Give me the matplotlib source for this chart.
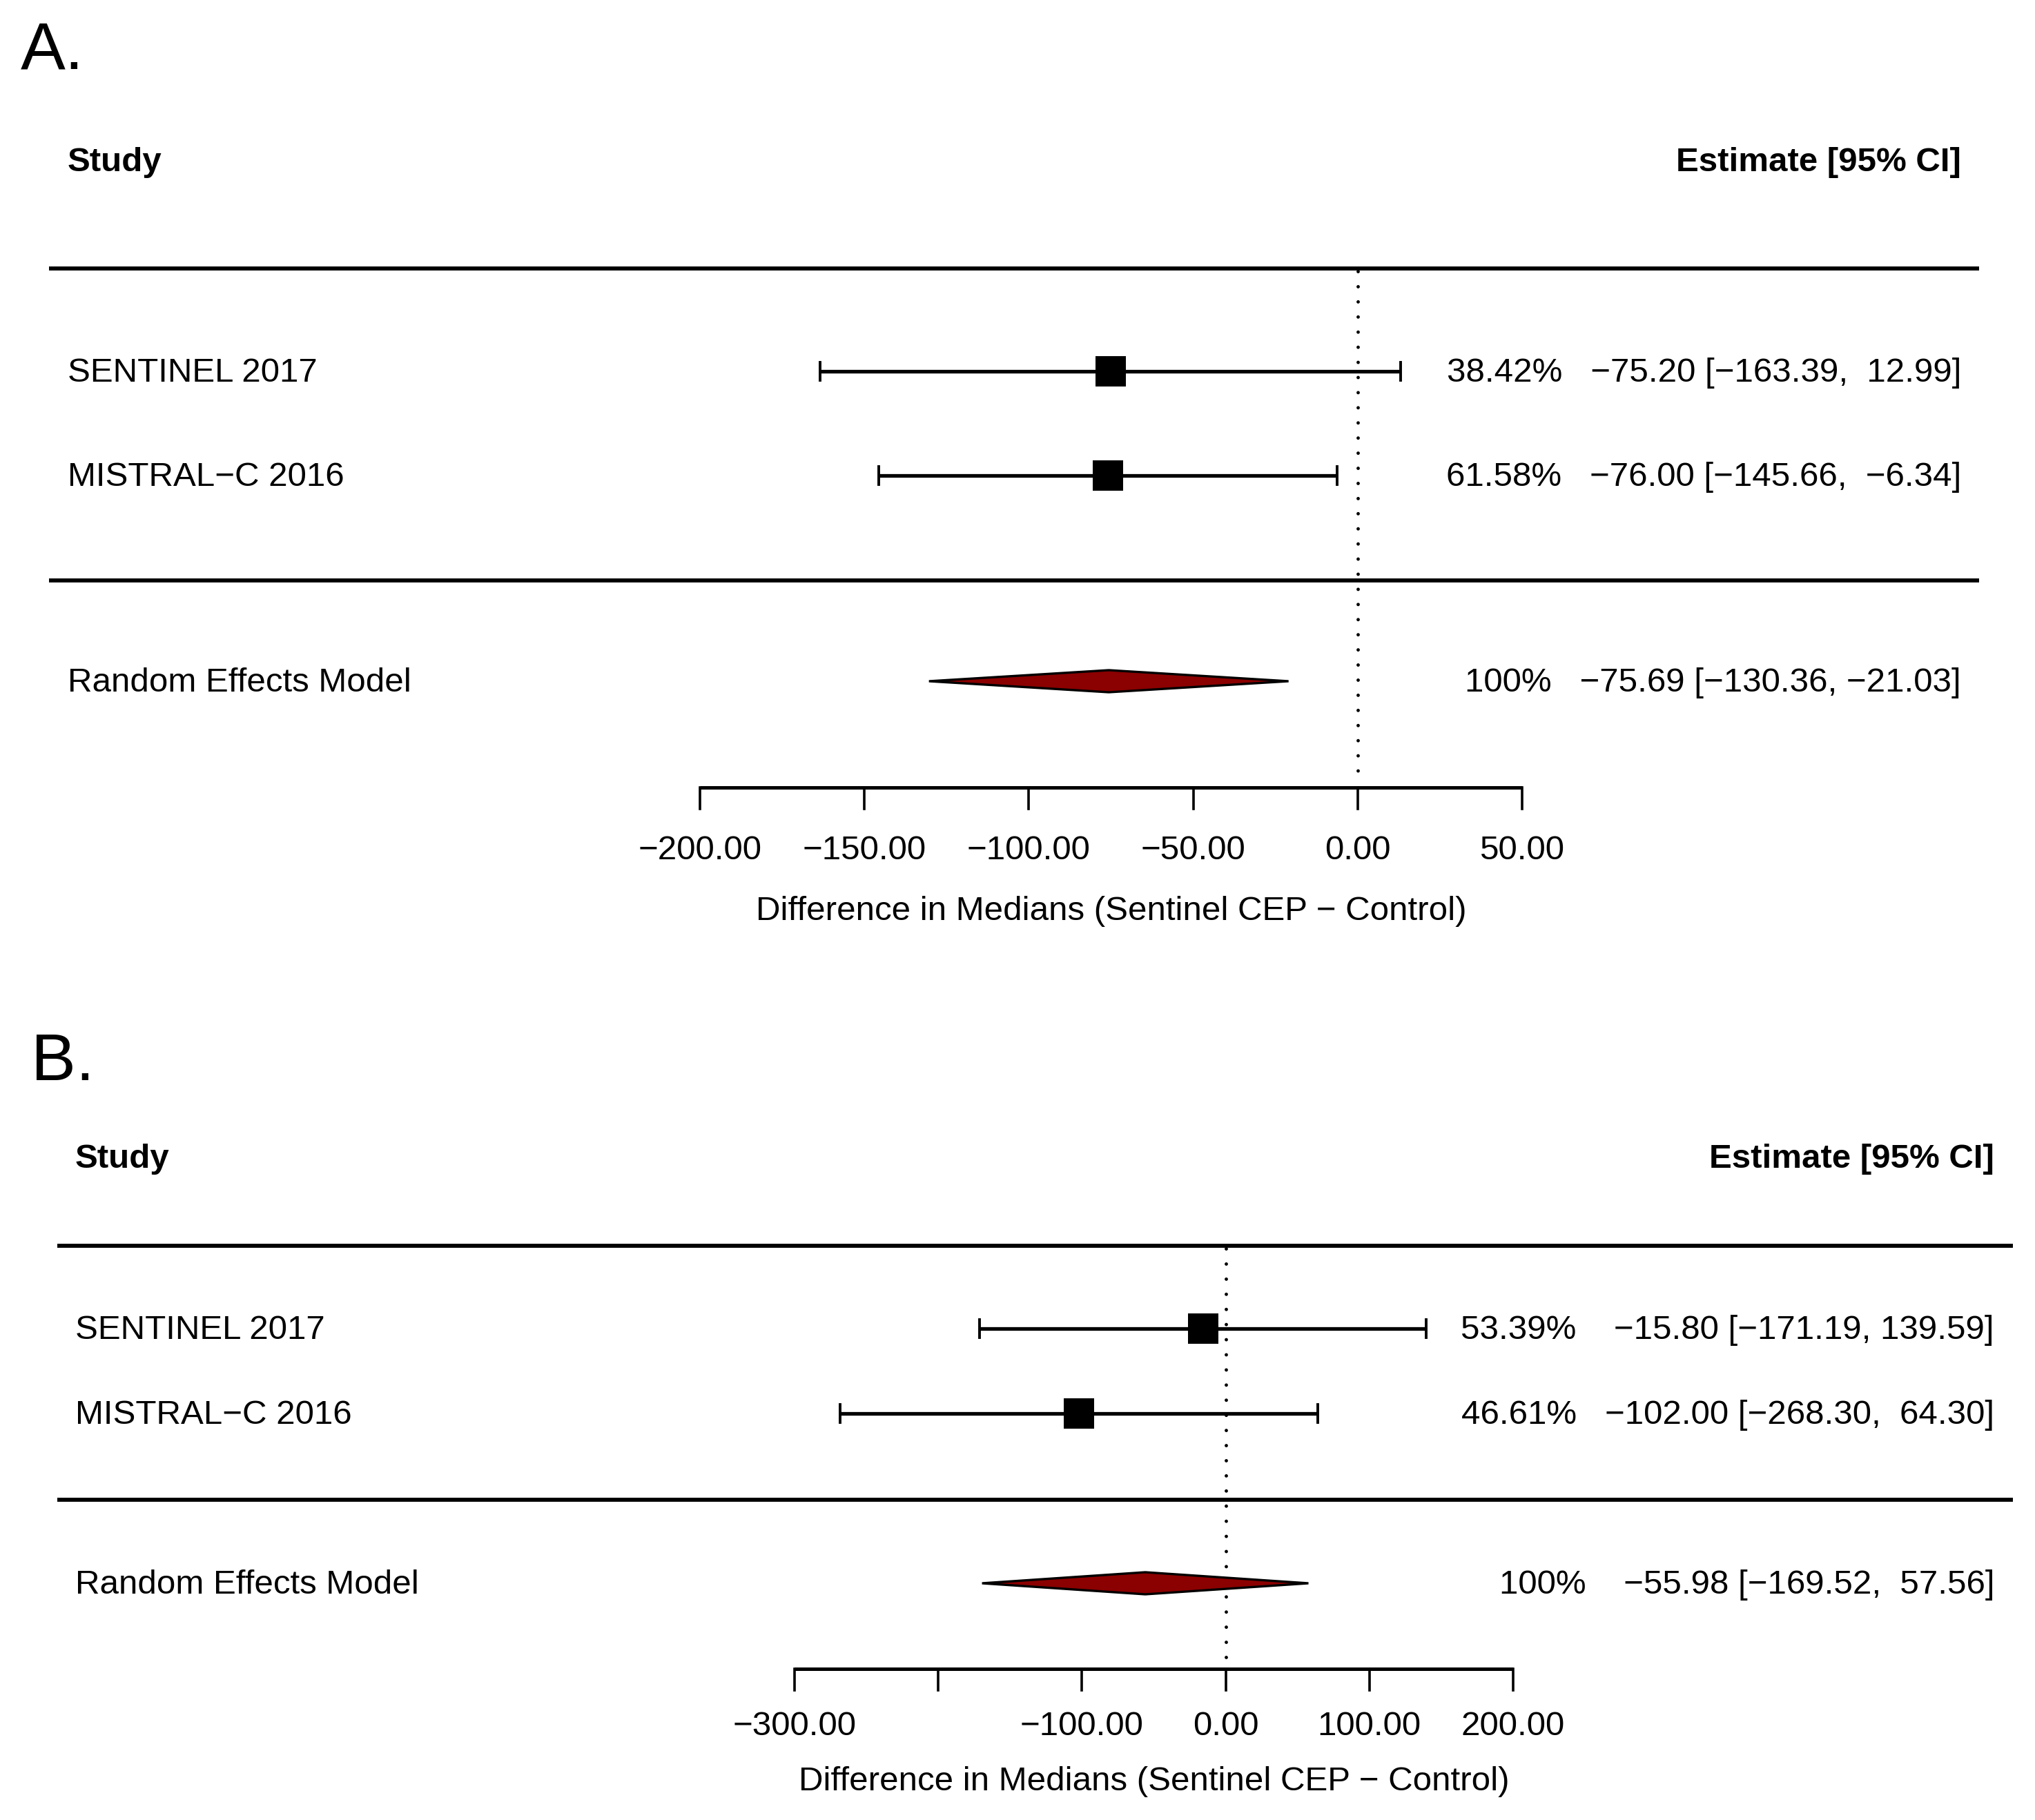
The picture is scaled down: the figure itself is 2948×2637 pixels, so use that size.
import matplotlib.pyplot as plt
from matplotlib.patches import Polygon
from matplotlib.transforms import blended_transform_factory

plt.rcParams['font.family'] = ['Liberation Sans', 'DejaVu Sans']

# data
studies = ["SENTINEL 2017", "MISTRAL\u2212C 2016"]

a_est = [-75.20, -76.00]
a_lb = [-163.39, -145.66]
a_ub = [12.99, -6.34]
a_wt = [38.42, 61.58]
a_re = [-75.69, -130.36, -21.03]   # estimate, lower, upper
a_ticks = [-200, -150, -100, -50, 0, 50]
a_ticklabels = ["\u2212200.00", "\u2212150.00", "\u2212100.00", "\u221250.00", "0.00", "50.00"]

b_est = [-15.80, -102.00]
b_lb = [-171.19, -268.30]
b_ub = [139.59, 64.30]
b_wt = [53.39, 46.61]
b_re = [-55.98, -169.52, 57.56]
b_ticks = [-300, -200, -100, 0, 100, 200]
b_ticklabels = ["\u2212300.00", "", "\u2212100.00", "0.00", "100.00", "200.00"]

xlab = "Difference in Medians (Sentinel CEP \u2212 Control)"

W, H = 2948, 2637
FS = 35.5

fig = plt.figure(figsize=(W / 100, H / 100), dpi=100)


def num(v):
    return f"{v:.2f}".replace("-", "\u2212")


def forest(lay, est, lb, ub, wt, re, ticks, ticklabels, letter):
    ax = fig.add_axes([0, 0, 1, 1])
    ax.set_axis_off()
    # pixel anchors of first and last tick give the x scale
    p0, p1 = lay["tick_px"]
    s = (p1 - p0) / (ticks[-1] - ticks[0])
    left = ticks[0] - p0 / s
    ax.set_xlim(left, left + W / s)
    ax.set_ylim(H, 0)
    tr = blended_transform_factory(ax.transAxes, ax.transData)
    off = 15  # baseline below the visual centre of capitals

    ax.text(lay["letter_x"] / W, lay["letter_y"], letter, transform=tr,
            fontsize=70, va="baseline", ha="left")
    ax.text(lay["left_x"] / W, lay["head"] + off, "Study", transform=tr,
            fontsize=FS, fontweight="bold", va="baseline", ha="left")
    ax.text(lay["right_x"] / W, lay["head"] + off, "Estimate [95% CI]", transform=tr,
            fontsize=FS, fontweight="bold", va="baseline", ha="right")

    for yl in lay["hlines"]:
        ax.plot([lay["line_x"][0] / W, lay["line_x"][1] / W], [yl, yl], transform=tr,
                color="black", lw=4.2, solid_capstyle="butt")

    # reference line at zero
    ax.plot([0, 0], [lay["hlines"][0] + 4, lay["axis_y"] - 6], color="black", lw=3.5,
            linestyle=(0, (0.01, 4.5)), dash_capstyle="round")

    # padded annotation columns
    all_est = est + [re[0]]
    all_lb = lb + [re[1]]
    all_ub = ub + [re[2]]
    we = max(len(num(v)) for v in all_est)
    wl = max(len(num(v)) for v in all_lb)
    wu = max(len(num(v)) for v in all_ub)
    ann = [f"{num(e).rjust(we)} [{num(l).rjust(wl)}, {num(u).rjust(wu)}]"
           for e, l, u in zip(all_est, all_lb, all_ub)]
    wts = [f"{w:.2f}%" for w in wt] + ["100%"]

    cap = 13
    for i, name in enumerate(studies):
        y = lay["rows"][i]
        ax.text(lay["left_x"] / W, y + off, name, transform=tr, fontsize=FS,
                va="baseline", ha="left")
        ax.plot([lb[i], ub[i]], [y, y], color="black", lw=3.8, solid_capstyle="butt")
        ax.plot([lb[i], lb[i]], [y - cap, y + cap], color="black", lw=2.8)
        ax.plot([ub[i], ub[i]], [y - cap, y + cap], color="black", lw=2.8)
        ax.plot([est[i]], [y], marker="s", color="black", markersize=31.5,
                markeredgewidth=0)

    yr = lay["re"]
    ax.text(lay["left_x"] / W, yr + off, "Random Effects Model", transform=tr,
            fontsize=FS, va="baseline", ha="left")
    dh = 16
    ax.add_patch(Polygon([(re[1], yr), (re[0], yr - dh), (re[2], yr), (re[0], yr + dh)],
                         closed=True, facecolor="#8B0000", edgecolor="black", lw=2.4,
                         zorder=3))

    for i, y in enumerate(lay["rows"] + [yr]):
        ax.text(lay["right_x"] / W, y + off, wts[i] + "   " + ann[i], transform=tr,
                fontsize=FS, va="baseline", ha="right")

    # x axis
    ya = lay["axis_y"]
    ax.plot([ticks[0], ticks[-1]], [ya, ya], color="black", lw=3.6, solid_capstyle="butt")
    for t, lab in zip(ticks, ticklabels):
        ax.plot([t, t], [ya, ya + 31], color="black", lw=2.6)
        ax.text(t, lay["tick_lab"] + off, lab, fontsize=FS, ha="center", va="baseline")
    ax.text((ticks[0] + ticks[-1]) / 2, lay["xlab"] + off, xlab, fontsize=FS,
            ha="center", va="baseline")


lay_a = dict(tick_px=(1014, 2205), letter_x=30, letter_y=100, left_x=98, right_x=2841,
             head=233, hlines=[389, 841], line_x=(71, 2867), rows=[538, 689], re=987,
             axis_y=1141, tick_lab=1230, xlab=1318)
lay_b = dict(tick_px=(1151, 2192), letter_x=45, letter_y=1565, left_x=109, right_x=2889,
             head=1677, hlines=[1805, 2173], line_x=(83, 2916), rows=[1925, 2048], re=2294,
             axis_y=2418, tick_lab=2499, xlab=2579)

forest(lay_a, a_est, a_lb, a_ub, a_wt, a_re, a_ticks, a_ticklabels, "A.")
forest(lay_b, b_est, b_lb, b_ub, b_wt, b_re, b_ticks, b_ticklabels, "B.")

fig.savefig("out.png", dpi=100, facecolor="white")
